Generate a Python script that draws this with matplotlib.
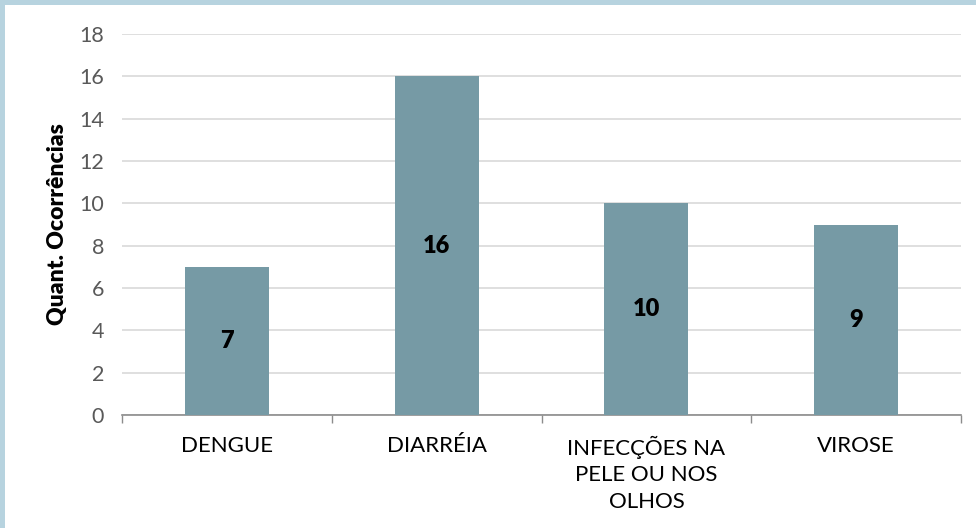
import matplotlib.pyplot as plt
from matplotlib.patches import Rectangle

# Dados
categorias = ["DENGUE", "DIARRÉIA", "INFECÇÕES NA\nPELE OU NOS\nOLHOS", "VIROSE"]
ocorrencias = [7, 16, 10, 9]
y_ticks = [0, 2, 4, 6, 8, 10, 12, 14, 16, 18]

COR_BARRA = "#769AA5"
COR_GRADE = "#D9D9D9"
COR_EIXO = "#8C8C8C"

plt.rcParams['font.family'] = ['Lato', 'DejaVu Sans']

fig = plt.figure(figsize=(9.76, 5.28), dpi=100)
fig.patch.set_facecolor("white")

# moldura azul clara (topo e esquerda)
fig.patches.append(Rectangle((0, 1 - 5 / 528), 1, 5 / 528, transform=fig.transFigure,
                             facecolor="#B7D3DF", edgecolor="none", zorder=0))
fig.patches.append(Rectangle((0, 0), 5 / 976, 1, transform=fig.transFigure,
                             facecolor="#B7D3DF", edgecolor="none", zorder=0))

ax = fig.add_axes([122 / 976, 1 - 415 / 528, (961 - 122) / 976, (415 - 34) / 528])

x = range(len(categorias))
bars = ax.bar(x, ocorrencias, width=0.4, color=COR_BARRA, zorder=3)

for b, v in zip(bars, ocorrencias):
    ax.text(b.get_x() + b.get_width() / 2, v / 2, str(v), ha="center", va="center",
            fontsize=17, fontweight="heavy", color="black", zorder=4)

ax.set_xlim(-0.5, len(categorias) - 0.5)
ax.set_ylim(0, 18)
ax.set_yticks(y_ticks)
ax.set_yticklabels([str(t) for t in y_ticks], fontsize=15.5, color="#595959")
ax.yaxis.grid(True, color=COR_GRADE, linewidth=1.2, zorder=0)
ax.tick_params(axis="y", length=0, pad=13)

ax.set_xticks(list(x))
ax.set_xticklabels(categorias, fontsize=16, color="black", linespacing=1.4)
ax.tick_params(axis="x", which="major", length=0, pad=15)
ax.set_xticks([i - 0.5 for i in range(len(categorias) + 1)], minor=True)
ax.tick_params(axis="x", which="minor", length=6, color=COR_EIXO, width=1)

for s in ["top", "right", "left"]:
    ax.spines[s].set_visible(False)
ax.spines["bottom"].set_color(COR_EIXO)
ax.spines["bottom"].set_linewidth(1.2)

ax.set_ylabel("Quant. Ocorrências", fontsize=16.5, fontweight="heavy", color="black", labelpad=8)

fig.savefig("out.png", dpi=100)
